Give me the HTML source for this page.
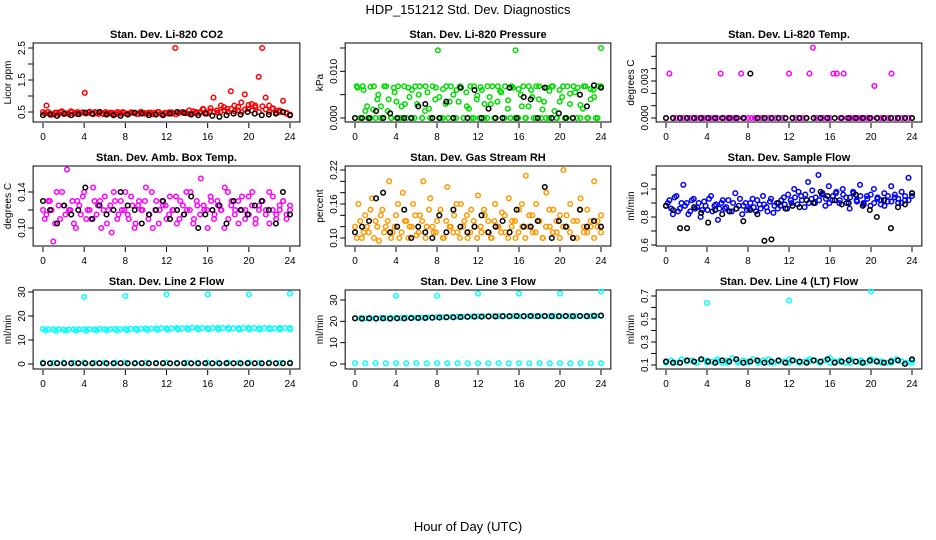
<!DOCTYPE html>
<html><head><meta charset="utf-8"><style>
body{margin:0;background:#fff}
svg{display:block;font-family:"Liberation Sans",Arial,sans-serif}
</style></head><body>
<svg id="chart" width="936" height="540" viewBox="0 0 936 540" xmlns="http://www.w3.org/2000/svg">
<rect width="936" height="540" fill="#fff"/>
<text x="468" y="14" font-size="13" text-anchor="middle">HDP_151212  Std. Dev. Diagnostics</text>
<text x="468" y="531" font-size="13" text-anchor="middle">Hour of Day (UTC)</text>
</svg>
<script>
const xTicks=[0,4,8,12,16,20,24];
// CO2
const co2Col=[0.5,0.7,0.45,0.42,0.48,0.5,0.44,0.46,0.52,0.45,0.5,0.47,1.1,0.48,0.45,0.5,0.44,0.46,0.5,0.45,0.47,0.43,0.48,0.5,0.45,0.46,0.48,0.44,0.5,0.47,0.45,0.48,0.46,0.5,0.44,0.47,0.45,0.49,2.5,0.46,0.5,0.48,0.55,0.45,0.5,0.47,0.6,0.48,0.52,0.95,0.55,0.5,0.65,0.6,1.15,0.7,0.55,0.8,1.05,0.6,0.75,0.7,1.6,2.5,0.95,0.7,0.6,0.55,0.5,0.85,0.48,0.4];
const co2Col2=[0.45,0.5,0.42,0.48,0.44,0.52,0.46,0.43,0.5,0.47,0.44,0.49,0.45,0.51,0.43,0.47,0.5,0.44,0.46,0.48,0.42,0.5,0.45,0.47,0.43,0.49,0.46,0.44,0.5,0.45,0.48,0.43,0.47,0.5,0.44,0.46,0.49,0.45,0.43,0.48,0.5,0.46,0.44,0.52,0.47,0.5,0.58,0.45,0.62,0.5,0.48,0.7,0.55,0.5,0.6,0.52,0.66,0.5,0.58,0.72,0.55,0.65,0.5,0.68,0.58,0.5,0.62,0.48,0.55,0.5,0.45,0.42];
const co2Blk=[0.4,0.42,0.38,0.45,0.4,0.43,0.48,0.45,0.5,0.42,0.4,0.38,0.42,0.48,0.45,0.4,0.42,0.4,0.45,0.5,0.47,0.42,0.4,0.45,0.38,0.35,0.4,0.45,0.42,0.5,0.45,0.4,0.42,0.45,0.5,0.4];
// Pressure
const presCol=[0,0.0065,0,0.0068,0.0015,0,0.0067,0.0018,0,0.005,0.0025,0,0.0068,0.004,0,0.0065,0.0035,0,0.0025,0.0068,0,0.0045,0.006,0,0.003,0.0068,0,0.0015,0.0055,0,0.0068,0.004,0.0145,0,0.0062,0.003,0,0.0068,0.005,0,0.0035,0.0065,0,0.0055,0.002,0,0.0068,0.004,0,0.006,0.003,0,0.0045,0.0068,0,0.0035,0.0058,0,0.0068,0.002,0,0.0065,0.0145,0,0.005,0.0068,0,0.0025,0.006,0,0.0068,0.004,0,0.0035,0.0065,0,0.0068,0.0015,0,0.006,0.0045,0,0.0068,0.003,0,0.0055,0.0065,0,0.002,0.0068,0,0.004,0.006,0,0.0068,0.015];
const presCol2=[0.0068,0,0.006,0.0025,0,0.0068,0.004,0,0.0068,0.0015,0,0.0055,0.0068,0,0.003,0.0065,0,0.0068,0.005,0,0.0068,0.002,0,0.0065,0.0045,0,0.0068,0.0035,0,0.006,0.0068,0,0.0025,0.0068,0,0.0048,0.0066,0,0.0068,0.003,0,0.0068,0.0055,0,0.0038,0.0068,0,0.0062,0.0025,0,0.0068,0.0045,0,0.0068,0.0018,0,0.0058,0.0068,0,0.0035,0.0068,0,0.0052,0.0068,0,0.0028,0.0068,0,0.0062,0.0045,0,0.0068];
const presBlk=[0,0,0,0.0015,0,0.001,0,0,0,0.0025,0.003,0,0,0.0035,0,0.0065,0,0.006,0,0.002,0,0,0.0065,0,0.0045,0.004,0,0.0065,0,0.001,0,0,0.005,0.0025,0.007,0.0065];
// Li-820 temp
const tempCol=[0,0.0036,0,0,0,0,0,0,0,0,0,0,0,0,0,0,0.0036,0,0,0,0,0,0.0036,0,0,0,0,0,0,0,0,0,0,0,0,0,0.0036,0,0,0,0,0,0.0036,0.0057,0,0,0,0,0,0.0036,0.0036,0,0.0036,0,0,0,0,0,0,0,0,0.0026,0,0,0,0,0.0036,0,0,0,0,0,0];
const tempBlk=[0,0,0,0,0,0,0,0,0,0,0,0,0.0036,0,0,0,0,0,0,0,0,0,0,0,0,0,0,0,0,0,0,0,0,0,0,0];
// Amb box temp
const ambCol=[0.12,0.115,0.13,0.085,0.14,0.11,0.125,0.165,0.12,0.105,0.13,0.115,0.14,0.12,0.11,0.13,0.125,0.1,0.135,0.12,0.095,0.13,0.115,0.12,0.14,0.11,0.125,0.105,0.13,0.12,0.145,0.115,0.1,0.13,0.12,0.125,0.11,0.135,0.12,0.105,0.13,0.115,0.12,0.14,0.11,0.125,0.155,0.12,0.1,0.13,0.115,0.125,0.12,0.145,0.11,0.13,0.12,0.105,0.135,0.12,0.115,0.14,0.11,0.125,0.13,0.12,0.105,0.135,0.115,0.12,0.13,0.11,0.125];
const ambCol2=[0.11,0.13,0.12,0.105,0.125,0.14,0.115,0.12,0.13,0.1,0.125,0.135,0.11,0.12,0.145,0.115,0.13,0.12,0.105,0.125,0.14,0.11,0.13,0.12,0.115,0.135,0.1,0.125,0.12,0.13,0.11,0.14,0.12,0.105,0.13,0.125,0.115,0.12,0.135,0.11,0.125,0.14,0.12,0.105,0.13,0.115,0.125,0.12,0.135,0.11,0.13,0.12,0.1,0.14,0.125,0.115,0.13,0.12,0.11,0.135,0.125,0.105,0.12,0.13,0.115,0.14,0.12,0.11,0.125,0.13,0.115,0.12];
const ambBlk=[0.13,0.12,0.105,0.125,0.115,0.12,0.145,0.11,0.125,0.115,0.12,0.14,0.125,0.12,0.105,0.115,0.12,0.13,0.11,0.12,0.115,0.135,0.1,0.115,0.12,0.125,0.105,0.13,0.12,0.115,0.125,0.13,0.12,0.105,0.14,0.115];
// RH
const rhCol=[0.12,0.16,0.1,0.14,0.11,0.17,0.13,0.095,0.15,0.12,0.2,0.11,0.14,0.1,0.18,0.13,0.12,0.16,0.105,0.14,0.2,0.12,0.17,0.11,0.13,0.15,0.1,0.19,0.12,0.14,0.11,0.16,0.13,0.1,0.15,0.12,0.175,0.11,0.14,0.13,0.1,0.16,0.12,0.145,0.11,0.17,0.13,0.1,0.15,0.12,0.21,0.14,0.11,0.16,0.13,0.1,0.18,0.12,0.15,0.11,0.14,0.22,0.12,0.16,0.1,0.13,0.17,0.11,0.15,0.12,0.2,0.13,0.11];
const rhCol2=[0.1,0.13,0.11,0.12,0.15,0.1,0.12,0.14,0.11,0.13,0.1,0.12,0.16,0.11,0.13,0.1,0.12,0.14,0.11,0.13,0.1,0.15,0.12,0.11,0.14,0.1,0.13,0.12,0.11,0.16,0.1,0.12,0.14,0.11,0.13,0.1,0.12,0.15,0.11,0.1,0.13,0.12,0.11,0.14,0.1,0.12,0.13,0.11,0.16,0.1,0.12,0.14,0.11,0.13,0.1,0.12,0.15,0.11,0.13,0.1,0.12,0.14,0.11,0.13,0.1,0.15,0.12,0.11,0.13,0.1,0.12,0.14];
const rhBlk=[0.11,0.12,0.13,0.17,0.18,0.11,0.12,0.15,0.1,0.12,0.11,0.1,0.14,0.11,0.15,0.12,0.11,0.12,0.14,0.11,0.12,0.13,0.11,0.15,0.12,0.12,0.13,0.19,0.1,0.13,0.12,0.1,0.15,0.12,0.13,0.12];
// Sample flow
const sfCol=[0.88,0.92,0.82,0.95,0.86,1.03,0.9,0.84,0.93,0.87,0.8,0.91,0.85,0.95,0.88,0.78,0.9,0.86,0.92,0.84,0.97,0.88,0.82,0.9,0.86,0.93,0.84,0.89,0.95,0.87,0.91,0.83,0.9,0.88,0.94,0.86,0.92,1.0,0.89,0.95,0.87,1.05,0.93,0.9,1.1,0.96,0.88,1.02,0.92,0.97,0.9,1.0,0.94,0.86,0.98,0.92,1.03,0.9,0.95,0.88,1.0,0.93,0.89,0.97,0.91,1.02,0.94,0.9,0.98,0.92,1.08,0.95];
const sfCol2=[0.9,0.86,0.94,0.84,0.9,0.88,0.82,0.92,0.86,0.9,0.85,0.88,0.93,0.84,0.89,0.86,0.92,0.87,0.84,0.9,0.86,0.93,0.88,0.85,0.9,0.87,0.92,0.86,0.89,0.84,0.93,0.88,0.86,0.92,0.89,0.96,0.9,0.94,0.98,0.92,0.96,0.9,0.99,0.94,0.92,0.97,0.93,0.9,0.95,0.98,0.92,0.96,0.9,0.94,0.97,0.91,0.95,0.89,0.93,0.96,0.9,0.94,0.92,0.88,0.95,0.91,0.96,0.93,0.9,0.95,0.92,0.97];
const sfBlk=[0.88,0.85,0.72,0.72,0.87,0.83,0.76,0.85,0.82,0.84,0.86,0.77,0.85,0.82,0.63,0.64,0.9,0.86,0.88,0.87,0.92,0.9,0.98,0.95,0.92,0.89,0.9,0.96,0.88,0.85,0.8,0.92,0.72,0.87,0.89,0.97];
// Line 2
const l2Band=[14.6,14.5,14.4,14.5,14.3,14.4,14.5,14.4,14.5,14.5,14.4,14.6,14.5,14.5,14.6,14.5,14.6,14.7,14.6,14.7,14.8,14.7,14.8,14.9,14.8,14.9,15.0,14.9,15.0,15.1,15.0,15.0,14.9,15.0,15.1,15.0,15.0,14.9,15.0,15.0,15.1,15.0,14.9,15.0,15.0,14.9,15.0,15.0,15.0];
const l2Band2=[14.0,13.9,14.0,14.0,13.9,14.0,14.1,14.0,14.1,14.2,14.2,14.3,14.3,14.4,14.4,14.4,14.5,14.4,14.5,14.4,14.5,14.4,14.5,14.4,14.5];
const l2Low=[0.6,0.5,0.6,0.5,0.6,0.5,0.6,0.5,0.6,0.5,0.6,0.5,0.6,0.5,0.6,0.5,0.6,0.5,0.6,0.5,0.6,0.5,0.6,0.5,0.6];
const l2Blk=[0.3,0.3,0.35,0.3,0.3,0.35,0.3,0.3,0.35,0.3,0.3,0.35,0.3,0.3,0.35,0.3,0.3,0.35,0.3,0.3,0.35,0.3,0.3,0.35,0.3,0.3,0.35,0.3,0.3,0.35,0.3,0.3,0.35,0.3,0.3,0.35];
const l2OutH=[4,8,12,16,20,24];
const l2OutV=[28,28.3,29,29,29,29.3];
// Line 3
const l3Band=[21.5,21.5,21.4,21.5,21.5,21.6,21.5,21.6,21.7,21.6,21.7,21.8,21.7,21.8,21.9,21.9,22.0,22.0,22.1,22.1,22.2,22.2,22.3,22.3,22.4,22.4,22.4,22.5,22.4,22.5,22.4,22.5,22.4,22.4,22.5,22.4,22.5,22.4,22.4,22.5,22.4,22.5,22.4,22.4,22.5,22.5,22.4,22.5,22.6];
const l3Low=[0.4,0.3,0.4,0.3,0.4,0.3,0.4,0.3,0.4,0.3,0.4,0.3,0.4,0.3,0.4,0.3,0.4,0.3,0.4,0.3,0.4,0.3,0.4,0.3,0.4];
const l3Blk=[21.4,21.3,21.4,21.3,21.4,21.3,21.4,21.4,21.5,21.6,21.6,21.7,21.8,21.9,21.9,22.0,22.1,22.2,22.2,22.3,22.3,22.4,22.4,22.5,22.4,22.5,22.4,22.5,22.4,22.4,22.5,22.4,22.5,22.4,22.6,22.7];
const l3OutH=[4,8,12,16,20,24];
const l3OutV=[32,32,33,33,33,34];
// Line 4
const l4Band=[0.13,0.14,0.12,0.15,0.13,0.14,0.12,0.15,0.14,0.13,0.15,0.12,0.14,0.16,0.13,0.14,0.12,0.15,0.13,0.14,0.15,0.12,0.14,0.13,0.15,0.14,0.12,0.13,0.15,0.14,0.12,0.14,0.16,0.13,0.14,0.12,0.15,0.13,0.14,0.12,0.15,0.14,0.13,0.12,0.14,0.15,0.13,0.12,0.14];
const l4Band2=[0.12,0.12,0.13,0.12,0.12,0.13,0.12,0.12,0.13,0.12,0.12,0.13,0.12,0.12,0.13,0.12,0.12,0.13,0.12,0.12,0.13,0.12,0.12,0.13,0.12];
const l4Blk=[0.13,0.12,0.12,0.14,0.13,0.15,0.13,0.12,0.14,0.13,0.15,0.12,0.13,0.14,0.12,0.13,0.14,0.12,0.14,0.13,0.12,0.14,0.13,0.15,0.12,0.13,0.14,0.13,0.12,0.14,0.13,0.12,0.13,0.14,0.11,0.15];
const l4OutH=[4,12,20];
const l4OutV=[0.64,0.66,0.74];

const svg=document.getElementById('chart');
const NS='http://www.w3.org/2000/svg';
function mk(tag,attrs,parent){const e=document.createElementNS(NS,tag);for(const k in attrs)e.setAttribute(k,attrs[k]);parent.appendChild(e);return e;}

const cols=[{x0:43,x24:290},{x0:355,x24:601},{x0:666,x24:912}];
const rows=[{top:43,bot:122},{top:166,bot:246},{top:290,bot:369}];

function panel(name,title,ci,ri,ylab,v1,p1,v2,p2,yTicks,yLabels,series){
  const c=cols[ci],r=rows[ri];
  const g=mk('g',{},svg);
  
  
  const sx=h=>c.x0+(c.x24-c.x0)*h/24;
  const sy=v=>p1+(p2-p1)*(v-v1)/(v2-v1);
  const bl=sx(-0.96),br=sx(24.96);
  const box=mk('rect',{x:bl,y:r.top,width:br-bl,height:r.bot-r.top,fill:'none',stroke:'#000','stroke-width':1},g);
  
  
  const t=mk('text',{x:(bl+br)/2,y:r.top-5,'font-size':11,'font-weight':'bold','text-anchor':'middle'},g);
  t.textContent=title;
  
  
  xTicks.forEach(h=>{
    const x=sx(h);
    mk('line',{x1:x,x2:x,y1:r.bot+1,y2:r.bot+6,stroke:'#000'},g);
    const tl=mk('text',{x:x,y:r.bot+18,'font-size':10,'text-anchor':'middle'},g);
    tl.textContent=h;
    
    
  });
  yTicks.forEach(v=>{
    const y=sy(v);
    mk('line',{x1:bl-5,x2:bl,y1:y,y2:y,stroke:'#000'},g);
  });
  yLabels.forEach(s=>{
    const y=sy(parseFloat(s));
    const tl=mk('text',{x:0,y:0,'font-size':10,'text-anchor':'middle',transform:`translate(${bl-8},${y}) rotate(-90)`},g);
    tl.textContent=s;
    
    
  });
  const yt=mk('text',{x:0,y:0,'font-size':10,'text-anchor':'middle',transform:`translate(${bl-22},${(r.top+r.bot)/2}) rotate(-90)`},g);
  yt.textContent=ylab;
  
  
  const cp=mk('clipPath',{id:'cp'+name},g);
  mk('rect',{x:bl,y:r.top-4,width:br-bl,height:r.bot-r.top+4},cp);
  const pg=mk('g',{'clip-path':'url(#cp'+name+')'},g);
  series.forEach(s=>{
    const n=s.vals.length;
    s.vals.forEach((v,i)=>{
      const h=s.hours?s.hours[i]:(s.off||0)+i*(24-(s.off||0))/(n-1);
      const p=mk('circle',{cx:sx(h),cy:sy(v),r:2.3,fill:'none',stroke:s.color,'stroke-width':1.5},pg);
      
      
    });
  });
}
const R='#ff0000',G='#00dd00',M='#ff00ff',O='#ff9900',B='#0000ff',C='#00ffff',K='#000';
panel('panel-co2','Stan. Dev. Li-820 CO2',0,0,'Licor ppm',0.5,112,2.5,48,[0.5,1,1.5,2,2.5],['0.5','1.5','2.5'],[{vals:co2Col,color:R},{vals:co2Col2,color:R,off:0.17},{vals:co2Blk,color:K}]);
panel('panel-pressure','Stan. Dev. Li-820 Pressure',1,0,'kPa',0,118,0.015,48,[0,0.005,0.01,0.015],['0.000','0.010'],[{vals:presCol,color:G},{vals:presCol2,color:G,off:0.17},{vals:presBlk,color:K}]);
panel('panel-li820-temp','Stan. Dev. Li-820 Temp.',2,0,'degrees C',0,118,0.003,81,[0,0.001,0.002,0.003,0.004,0.005],['0.000','0.003'],[{vals:tempCol,color:M},{vals:tempBlk,color:K}]);
panel('panel-amb-temp','Stan. Dev. Amb. Box Temp.',0,1,'degrees C',0.10,228,0.14,192,[0.10,0.12,0.14],['0.10','0.14'],[{vals:ambCol,color:M},{vals:ambCol2,color:M,off:0.17},{vals:ambBlk,color:K}]);
panel('panel-rh','Stan. Dev. Gas Stream RH',1,1,'percent',0.10,238,0.22,170,[0.10,0.12,0.14,0.16,0.18,0.20,0.22],['0.10','0.16','0.22'],[{vals:rhCol,color:O},{vals:rhCol2,color:O,off:0.17},{vals:rhBlk,color:K}]);
panel('panel-sample-flow','Stan. Dev. Sample Flow',2,1,'ml/min',0.6,245,1.0,189,[0.6,0.7,0.8,0.9,1.0,1.1],['0.6','0.8','1.0'],[{vals:sfCol,color:B},{vals:sfCol2,color:B,off:0.17},{vals:sfBlk,color:K}]);
panel('panel-line2','Stan. Dev. Line 2 Flow',0,2,'ml/min',0,364,30,292,[0,10,20,30],['0','10','20','30'],[{vals:l2Band,color:C},{vals:l2Band2,color:C,off:0.25},{vals:l2Low,color:C},{vals:l2Blk,color:K},{vals:l2OutV,hours:l2OutH,color:C}]);
panel('panel-line3','Stan. Dev. Line 3 Flow',1,2,'ml/min',0,364,30,300,[0,10,20,30],['0','10','20','30'],[{vals:l3Band,color:C},{vals:l3Low,color:C},{vals:l3Blk,color:K},{vals:l3OutV,hours:l3OutH,color:C}]);
panel('panel-line4','Stan. Dev. Line 4 (LT) Flow',2,2,'ml/min',0.1,365,0.7,296,[0.1,0.2,0.3,0.4,0.5,0.6,0.7],['0.1','0.3','0.5','0.7'],[{vals:l4Band,color:C},{vals:l4Band2,color:C},{vals:l4Blk,color:K},{vals:l4OutV,hours:l4OutH,color:C}]);
</script>
</body></html>
